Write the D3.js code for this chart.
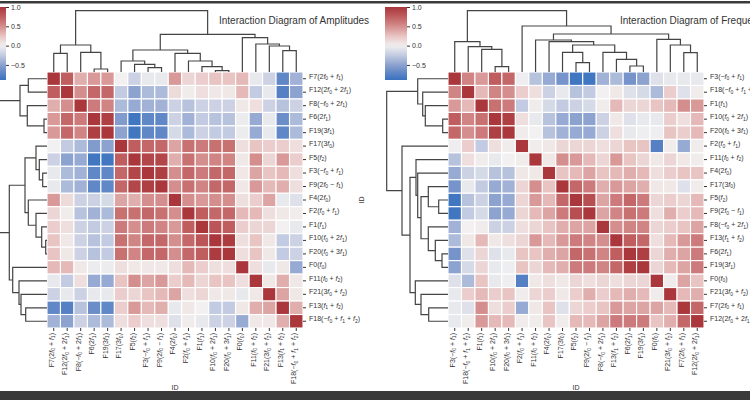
<!DOCTYPE html>
<html>
<head>
<meta charset="utf-8">
<script src="https://cdn.jsdelivr.net/npm/d3@7"></script>
<style>
  body { margin: 0; background: #fff; }
  svg { display: block; font-family: 'Liberation Sans', Arial, sans-serif; }
</style>
</head>
<body>
<svg width="750" height="400"></svg>
<script>
const svg = d3.select('svg');

const width = +svg.attr('width');
const height = +svg.attr('height');

// component names -> tick labels (f followed by a digit is set as italic f with subscript)
const labelNames = {
    F0: 'F0(f0)', F1: 'F1(f1)', F2: 'F2(f0 + f1)', F3: 'F3(−f0 + f1)', F4: 'F4(2f0)',
    F5: 'F5(f2)', F6: 'F6(2f1)', F7: 'F7(2f0 + f1)', F8: 'F8(−f0 + 2f1)', F9: 'F9(2f0 − f1)',
    F10: 'F10(f0 + 2f1)', F11: 'F11(f0 + f2)', F12: 'F12(2f0 + 2f1)', F13: 'F13(f1 + f2)',
    F17: 'F17(3f0)', F18: 'F18(−f0 + f1 + f2)', F19: 'F19(3f1)', F20: 'F20(f0 + 3f1)', F21: 'F21(3f0 + f2)'
};

// ---- amplitudes ----
const ampOrder = ['F7', 'F12', 'F8', 'F6', 'F19', 'F17', 'F5', 'F3', 'F9', 'F4', 'F2', 'F1', 'F10', 'F20', 'F0', 'F11', 'F21', 'F13', 'F18'];
const ampCorr = [
    [1, .75, .35, .45, .45, 0, -.2, -.05, -.05, .45, .15, .2, .25, .25, .3, -.05, -.2, -.7, -.4],
    [.75, 1, .5, .7, .7, -.25, -.5, -.35, -.35, .12, .02, .1, .05, .05, .3, -.25, -.05, -.75, -.5],
    [.35, .5, 1, .6, .55, -.35, -.45, -.4, -.4, -.2, -.3, -.2, -.2, -.2, .05, .1, -.2, -.3, -.2],
    [.45, .7, .6, 1, .95, -.55, -.85, -.7, -.7, -.2, -.4, -.25, -.3, -.3, -.03, -.45, -.05, -.65, -.35],
    [.45, .7, .55, .95, 1, -.5, -.85, -.7, -.7, -.15, -.35, -.2, -.25, -.25, -.03, -.45, -.05, -.7, -.35],
    [0, -.25, -.35, -.55, -.5, 1, .75, .7, .7, .4, .65, .6, .65, .65, .1, .25, .2, .2, .1],
    [-.2, -.5, -.45, -.85, -.85, .75, 1, .9, .9, .35, .65, .5, .55, .55, .05, .5, .15, .45, .2],
    [-.05, -.35, -.4, -.7, -.7, .7, .9, 1, .95, .5, .7, .6, .7, .7, .05, .4, .25, .3, .1],
    [-.05, -.35, -.4, -.7, -.7, .7, .9, .95, 1, .5, .65, .55, .7, .7, .05, .45, .3, .35, .1],
    [.45, .12, -.2, -.2, -.15, .4, .35, .5, .5, 1, .5, .45, .5, .5, .1, .2, .4, -.05, -.1],
    [.15, .02, -.3, -.4, -.35, .65, .65, .7, .65, .5, 1, .75, .7, .7, .3, .3, .1, .05, .02],
    [.2, .1, -.2, -.25, -.2, .6, .5, .6, .55, .45, .75, 1, .8, .75, .2, .15, .15, 0, -.05],
    [.25, .05, -.2, -.3, -.25, .65, .55, .7, .7, .5, .7, .8, 1, .97, .1, .25, .05, -.25, -.2],
    [.25, .05, -.2, -.3, -.25, .65, .55, .7, .7, .5, .7, .75, .97, 1, .1, .25, .05, -.25, -.2],
    [.3, .3, .05, -.03, -.03, .1, .05, .05, .05, .1, .3, .2, .1, .1, 1, .1, -.05, .05, -.45],
    [-.05, -.25, .1, -.45, -.45, .25, .5, .4, .45, .2, .3, .15, .25, .25, .1, 1, .05, .35, .05],
    [-.2, -.05, -.2, -.05, -.05, .2, .15, .25, .3, .4, .1, .15, .05, .05, -.05, .05, 1, .4, .05],
    [-.7, -.75, -.3, -.65, -.7, .2, .45, .3, .35, -.05, .05, 0, -.25, -.25, .05, .35, .4, 1, .35],
    [-.4, -.5, -.2, -.35, -.35, .1, .2, .1, .1, -.1, .02, -.05, -.2, -.2, -.45, .05, .05, .35, 1]
];
// linkage tree: [height, left, right]
const ampTree = [61.3,
    [27, [18.7, 'F7', 'F12'], [19.7, 'F8', [3, 'F6', 'F19']]],
    [37.7,
        [22, [11, 'F17', [7.7, 'F5', [4.3, 'F3', 'F9']]],
             [18.7, 'F4', [11, 'F2', [5.3, 'F1', [1.3, 'F10', 'F20']]]]],
        [34.3, 'F0', [28, 'F11', [26, 'F21', [21.3, 'F13', 'F18']]]]]];

// ---- frequencies ----
const freqOrder = ['F3', 'F18', 'F1', 'F10', 'F20', 'F2', 'F11', 'F4', 'F17', 'F5', 'F9', 'F8', 'F13', 'F6', 'F19', 'F0', 'F21', 'F7', 'F12'];
const freqCorr = [
    [1, .55, .45, .75, .7, -.02, -.3, -.45, -.6, -.85, -.85, -.4, -.35, -.6, -.5, -.1, -.05, -.05, -.05],
    [.55, 1, .3, .55, .5, .2, .1, -.2, -.05, -.3, -.25, 0, .05, -.1, -.15, -.35, .2, -.1, .02],
    [.45, .3, 1, .65, .6, -.25, .02, -.15, -.25, -.2, -.15, .02, .3, .15, .15, .25, .3, .5, .45],
    [.75, .55, .65, 1, .95, .1, -.05, -.3, -.45, -.5, -.5, -.2, .05, -.1, -.05, -.05, .2, .1, .3],
    [.7, .5, .6, .95, 1, .02, 0, -.3, -.4, -.45, -.45, -.2, .1, -.05, -.02, -.02, .25, .2, .3],
    [-.02, .2, -.25, .1, .02, 1, .02, .05, .15, .15, .15, .1, .15, .25, .25, -.75, .02, -.45, .02],
    [-.3, .1, .02, -.05, 0, .02, 1, .05, .5, .45, .3, .15, .45, .25, .15, .05, .15, .05, .02],
    [-.45, -.2, -.15, -.3, -.3, .05, .05, 1, .25, .3, .4, .25, .3, .35, .3, .1, .2, .25, .25],
    [-.6, -.05, -.25, -.45, -.4, .15, .5, .25, 1, .7, .6, .35, .45, .4, .35, .05, .05, -.1, .02],
    [-.85, -.3, -.2, -.5, -.45, .15, .45, .3, .7, 1, .85, .4, .6, .7, .6, .15, .2, .15, .3],
    [-.85, -.25, -.15, -.5, -.45, .15, .3, .4, .6, .85, 1, .4, .55, .65, .6, .1, .35, .2, .3],
    [-.4, 0, .02, -.2, -.2, .1, .15, .25, .35, .4, .4, 1, .5, .55, .55, .15, .2, .25, .4],
    [-.35, .05, .3, .05, .1, .15, .45, .3, .45, .6, .55, .5, 1, .75, .7, .1, .3, .45, .6],
    [-.6, -.1, .15, -.1, -.05, .25, .25, .35, .4, .7, .65, .55, .75, 1, .95, .15, .35, .4, .6],
    [-.5, -.15, .15, -.05, -.02, .25, .15, .3, .35, .6, .6, .55, .7, .95, 1, .15, .3, .4, .6],
    [-.1, -.35, .25, -.05, -.02, -.75, .05, .1, .05, .15, .1, .15, .1, .15, .15, 1, .02, .4, .25],
    [-.05, .2, .3, .2, .25, .02, .15, .2, .05, .2, .35, .2, .3, .35, .3, .02, 1, .3, .35],
    [-.05, -.1, .5, .1, .2, -.45, .05, .25, -.1, .15, .2, .25, .45, .4, .4, .4, .3, 1, .7],
    [-.05, .02, .45, .3, .3, .02, .02, .25, .02, .3, .3, .4, .6, .6, .6, .25, .35, .7, 1]
];
const freqTree = [61.3,
    [30.3, 'F3', [25.3, 'F18', [22.7, 'F1', [5.3, 'F10', 'F20']]]],
    [46, 'F2',
        [38,
            [32, 'F11', [30.3, 'F4', [27, [19.7, 'F17', [9.3, 'F5', 'F9']],
                                        [19.7, 'F8', [12.7, 'F13', [6, 'F6', 'F19']]]]]],
            [32.7, 'F0', [27, 'F21', [19.3, 'F7', 'F12']]]]]];

const cbarDomain = [-0.89, 1];
const cbarTicks = [1, 0.5, 0, -0.5];

// seaborn "vlag", centred at 0
const color = d3.scaleLinear()
    .domain([-1, -0.75, -0.5, -0.25, 0, 0.25, 0.5, 0.75, 1])
    .range(['#2369bd', '#5580c4', '#8ca2cf', '#c2cbe1', '#f2f0f0', '#e8c4c3', '#d48e8d', '#c05d5f', '#a9373b'])
    .clamp(true);

const textColor = '#333';
const lineColor = '#444';

const mathLabel = (text, str) => {
    text.text(null);
    let low = false;
    str.split(/(f\d)/).filter((s) => s).forEach((s) => {
        const m = s.match(/^f(\d)$/);
        if (m) {
            text.append('tspan').attr('font-style', 'italic').attr('dy', low ? -1.6 : 0).text('f');
            text.append('tspan').attr('font-size', 5).attr('dy', 1.6).text(m[1]);
            low = true;
        } else {
            text.append('tspan').attr('dy', low ? -1.6 : 0).text(s);
            low = false;
        }
    });
};

const render = (p) => {
    const margin = { top: 72, left: 47 + p.dx };
    const size = 256;
    const g = svg.append('g');

    const xScale = d3.scaleBand().domain(p.order).range([margin.left, margin.left + size]);
    const yScale = d3.scaleBand().domain(p.order).range([margin.top, margin.top + size]);
    const hScale = d3.scaleLinear().domain([0, 62]).range([0, 62]);

    // heatmap cells
    const cells = p.order.flatMap((r, i) => p.order.map((c, j) => ({ r, c, v: p.corr[i][j] })));
    g.selectAll('rect.cell')
        .data(cells)
        .enter()
        .append('rect')
        .attr('class', 'cell')
        .attr('x', (d) => xScale(d.c))
        .attr('y', (d) => yScale(d.r))
        .attr('width', xScale.bandwidth())
        .attr('height', yScale.bandwidth())
        .attr('fill', (d) => color(d.v))
        .attr('stroke', '#fff')
        .attr('stroke-width', 1.1);

    // dendrograms (same linkage for rows and columns)
    const links = [];
    const walk = (node) => {
        if (typeof node === 'string') return { c: node, pos: null, h: 0 };
        const [h, a, b] = node;
        const A = walk(a);
        const B = walk(b);
        const link = { h, a: A, b: B };
        links.push(link);
        return { link, h };
    };
    walk(p.tree);

    const center = (n, scale) => n.link ? (center(n.link.a, scale) + center(n.link.b, scale)) / 2
        : scale(n.c) + scale.bandwidth() / 2;

    const colPath = (l) => {
        const xa = center(l.a, xScale), xb = center(l.b, xScale);
        const y = (h) => margin.top - hScale(h);
        return `M${xa},${y(l.a.h)}V${y(l.h)}H${xb}V${y(l.b.h)}`;
    };
    const rowPath = (l) => {
        const ya = center(l.a, yScale), yb = center(l.b, yScale);
        const x = (h) => margin.left - hScale(h);
        return `M${x(l.a.h)},${ya}H${x(l.h)}V${yb}H${x(l.b.h)}`;
    };

    g.append('g').selectAll('path')
        .data(links)
        .enter()
        .append('path')
        .attr('d', colPath)
        .attr('fill', 'none')
        .attr('stroke', lineColor)
        .attr('stroke-width', 1.2);

    g.append('g').selectAll('path')
        .data(links)
        .enter()
        .append('path')
        .attr('d', rowPath)
        .attr('fill', 'none')
        .attr('stroke', lineColor)
        .attr('stroke-width', 1.2);

    // row labels
    const yAxisG = g.append('g')
        .attr('transform', `translate(${margin.left + size},0)`)
        .call(d3.axisRight(yScale).tickSize(3).tickPadding(3));
    yAxisG.select('.domain').remove();
    yAxisG.attr('font-size', 7).attr('font-family', null).attr('color', textColor);
    yAxisG.selectAll('.tick text').each(function (d) { mathLabel(d3.select(this), labelNames[d]); });

    // column labels
    const xAxisG = g.append('g')
        .attr('transform', `translate(0,${margin.top + size})`)
        .call(d3.axisBottom(xScale).tickSize(3));
    xAxisG.select('.domain').remove();
    xAxisG.attr('font-size', 7).attr('font-family', null).attr('color', textColor);
    xAxisG.selectAll('.tick text')
        .attr('y', 0)
        .attr('x', -5)
        .attr('dy', '0.35em')
        .attr('transform', 'rotate(-90)')
        .style('text-anchor', 'end')
        .each(function (d) { mathLabel(d3.select(this), labelNames[d]); });

    g.append('text')
        .attr('x', margin.left + size / 2)
        .attr('y', 390)
        .attr('text-anchor', 'middle')
        .attr('font-size', 7)
        .attr('fill', textColor)
        .text('ID');

    g.append('text')
        .attr('transform', `translate(${margin.left + size + 61},${margin.top + size / 2}) rotate(-90)`)
        .attr('text-anchor', 'middle')
        .attr('font-size', 7)
        .attr('fill', textColor)
        .text('ID');

    // colour bar
    const cbY = d3.scaleLinear().domain(cbarDomain).range([80, 7]);
    const gradId = `grad${p.dx}`;
    const grad = svg.append('defs').append('linearGradient')
        .attr('id', gradId)
        .attr('x1', 0).attr('y1', 1).attr('x2', 0).attr('y2', 0);
    d3.range(21).forEach((i) => {
        const v = cbarDomain[0] + (cbarDomain[1] - cbarDomain[0]) * i / 20;
        grad.append('stop').attr('offset', i / 20).attr('stop-color', color(v));
    });
    const cbLeft = margin.left - 63;
    g.append('rect')
        .attr('x', cbLeft)
        .attr('y', cbY(cbarDomain[1]))
        .attr('width', 22)
        .attr('height', cbY(cbarDomain[0]) - cbY(cbarDomain[1]))
        .attr('fill', `url(#${gradId})`);
    const cbAxisG = g.append('g')
        .attr('transform', `translate(${cbLeft + 22},0)`)
        .call(d3.axisRight(cbY).tickValues(cbarTicks).tickSize(3).tickPadding(2).tickFormat(d3.format('.1f')));
    cbAxisG.select('.domain').remove();
    cbAxisG.attr('font-size', 7).attr('font-family', null).attr('color', textColor);

    g.append('text')
        .attr('x', margin.left + 172)
        .attr('y', 23.5)
        .attr('font-size', 10)
        .attr('fill', textColor)
        .text(p.title);
};

render({ title: 'Interaction Diagram of Amplitudes', order: ampOrder, corr: ampCorr, tree: ampTree, dx: 0 });
render({ title: 'Interaction Diagram of Frequencies', order: freqOrder, corr: freqCorr, tree: freqTree, dx: 401 });

// screenshot frame bars
svg.append('rect').attr('x', 0).attr('y', 1).attr('width', width).attr('height', 2.5).attr('fill', '#3a3a3a');
svg.append('rect').attr('x', 0).attr('y', 391).attr('width', width).attr('height', height - 391).attr('fill', '#3a3a3a');
</script>
</body>
</html>
